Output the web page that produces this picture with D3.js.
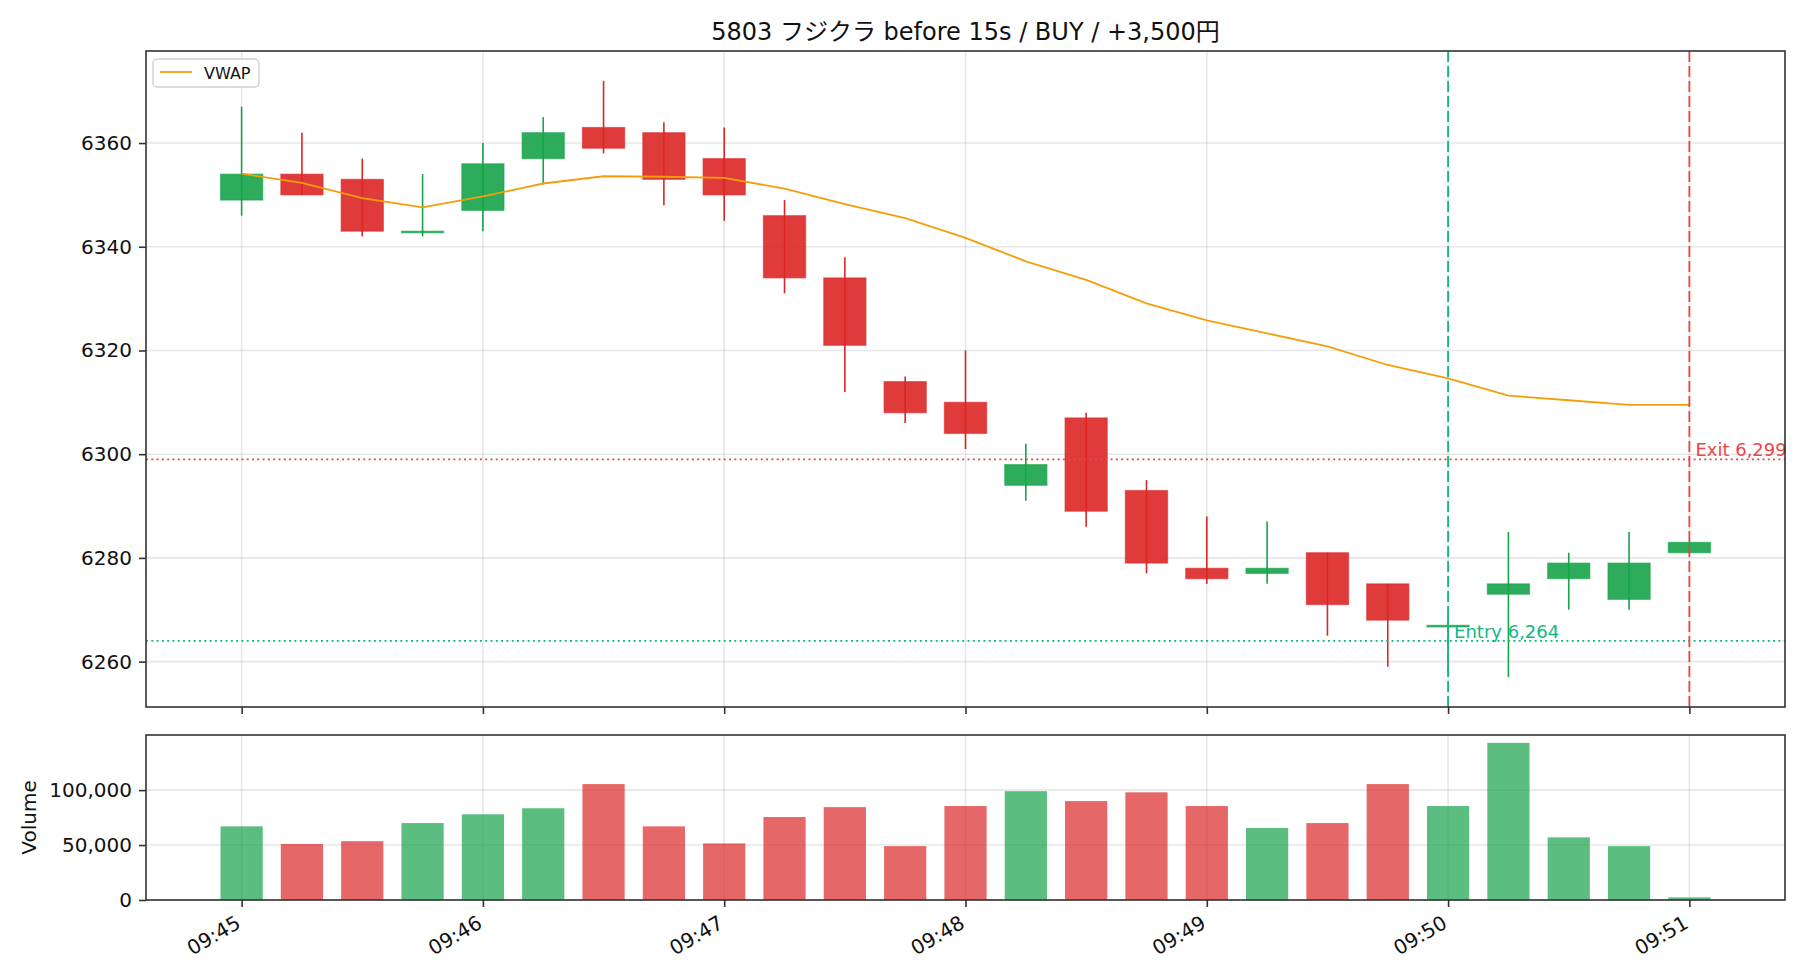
<!DOCTYPE html>
<html>
<head>
<meta charset="utf-8">
<script src="https://cdn.jsdelivr.net/npm/d3@7"></script>
<style>
  body { margin: 0; background: #fff; }
  svg text { font-family: "DejaVu Sans", "Noto Sans CJK JP", sans-serif; fill: #111; }
</style>
</head>
<body>
<svg id="chart" width="1820" height="980"></svg>
<script>
// 15s bars
const candleTimes = ["09:45:00","09:45:15","09:45:30","09:45:45","09:46:00","09:46:15","09:46:30","09:46:45",
  "09:47:00","09:47:15","09:47:30","09:47:45","09:48:00","09:48:15","09:48:30","09:48:45",
  "09:49:00","09:49:15","09:49:30","09:49:45","09:50:00","09:50:15","09:50:30","09:50:45","09:51:00"];
const opens  = [6349,6354,6353,6343,6347,6357,6363,6362,6357,6346,6334,6314,6310,6294,6307,6293,6278,6277,6281,6275,6267,6273,6276,6272,6281];
const highs  = [6367,6362,6357,6354,6360,6365,6372,6364,6363,6349,6338,6315,6320,6302,6308,6295,6288,6287,6281,6275,6269,6285,6281,6285,6283];
const lows   = [6346,6350,6342,6342,6343,6352,6358,6348,6345,6331,6312,6306,6301,6291,6286,6277,6275,6275,6265,6259,6258,6257,6270,6270,6281];
const closes = [6354,6350,6343,6343,6356,6362,6359,6353,6350,6334,6321,6308,6304,6298,6289,6279,6276,6278,6271,6268,6267,6275,6279,6279,6283];
const vwap   = [6354.1,6352.3,6349.4,6347.6,6349.7,6352.2,6353.6,6353.5,6353.3,6351.2,6348.2,6345.5,6341.7,
  6337.2,6333.6,6329.1,6325.8,6323.3,6320.8,6317.2,6314.6,6311.3,6310.4,6309.5,6309.5];
const volumes = [67000,51000,53500,70000,78000,83500,105500,67000,51500,75500,84500,49000,85500,
  99000,90000,98000,85500,65500,70000,105500,85500,143000,57000,49000,2400];

const xTickLabels = ["09:45","09:46","09:47","09:48","09:49","09:50","09:51"];
const priceTicks = [6260,6280,6300,6320,6340,6360];
const volumeTicks = [0,50000,100000];

const entryTime = "09:50:00", entryPrice = 6264;
const exitTime  = "09:51:00", exitPrice  = 6299;
const titleText = "5803 フジクラ before 15s / BUY / +3,500円";

const UP = "#16a34a", DOWN = "#dc2626", VWAP_C = "#f59e0b", ENTRY_C = "#10b981", EXIT_C = "#ef4444";

const svg = d3.select("#chart");
const parseT = d3.timeParse("%H:%M:%S");
const bars = candleTimes.map(function(t,i){
  return {t: parseT(t), o: opens[i], h: highs[i], l: lows[i], c: closes[i], v: vwap[i], vol: volumes[i]};
});

const main = {left: 146, right: 1785, top: 51, bottom: 707};
const vol  = {left: 146, right: 1785, top: 735, bottom: 900};

// matplotlib-like autoscale: body half width + 5% margin
const step = 15000, halfW = step * 0.35;
const t0 = +bars[0].t - halfW, t1 = +bars[bars.length-1].t + halfW;
const padT = (t1 - t0) * 0.05;
const x = d3.scaleTime().domain([new Date(t0 - padT), new Date(t1 + padT)]).range([main.left, main.right]);

const pMin = d3.min(lows), pMax = d3.max(highs), padP = (pMax - pMin) * 0.05;
const y = d3.scaleLinear().domain([pMin - padP, pMax + padP]).range([main.bottom, main.top]);
const yv = d3.scaleLinear().domain([0, d3.max(volumes) * 1.05]).range([vol.bottom, vol.top]);

const xTicks = xTickLabels.map(function(s){ return parseT(s + ":00"); });
const bw = x(new Date(+bars[0].t + halfW)) - x(new Date(+bars[0].t - halfW));

function grid(g, box, yScale, yTicks){
  g.selectAll(".gx").data(xTicks).enter().append("line")
    .attr("x1", d => x(d)).attr("x2", d => x(d)).attr("y1", box.top).attr("y2", box.bottom)
    .attr("stroke", "#b0b0b0").attr("stroke-opacity", 0.3).attr("stroke-width", 1.6);
  g.selectAll(".gy").data(yTicks).enter().append("line")
    .attr("x1", box.left).attr("x2", box.right).attr("y1", d => yScale(d)).attr("y2", d => yScale(d))
    .attr("stroke", "#b0b0b0").attr("stroke-opacity", 0.3).attr("stroke-width", 1.6);
}

function frame(g, box, yScale, yTicks, fmt, showX){
  const ya = g.append("g").attr("transform", "translate(" + box.left + ",0)")
    .call(d3.axisLeft(yScale).tickValues(yTicks).tickFormat(fmt).tickSize(7).tickPadding(7));
  const xa = g.append("g").attr("transform", "translate(0," + box.bottom + ")")
    .call(d3.axisBottom(x).tickValues(xTicks).tickFormat(d3.timeFormat("%H:%M")).tickSize(7).tickPadding(7));
  [ya, xa].forEach(function(a){
    a.select(".domain").remove();
    a.selectAll(".tick line").attr("stroke", "#333").attr("stroke-width", 1.6);
    a.selectAll(".tick text").style("font-size", "20px").attr("fill", "#111");
  });
  if(!showX) xa.selectAll(".tick text").remove();
  else {
    xa.selectAll(".tick text")
      .attr("text-anchor", "end").attr("dy", "0")
      .attr("transform", "translate(0,27) rotate(-30)")
      .attr("y", 0).attr("x", 0);
  }
  g.append("rect").attr("x", box.left).attr("y", box.top)
    .attr("width", box.right - box.left).attr("height", box.bottom - box.top)
    .attr("fill", "none").attr("stroke", "#333").attr("stroke-width", 1.6);
}

// ---- price panel
const gMain = svg.append("g");
grid(gMain, main, y, priceTicks);

gMain.append("clipPath").attr("id", "clipMain").append("rect")
  .attr("x", main.left).attr("y", main.top).attr("width", main.right - main.left).attr("height", main.bottom - main.top);
const plot = gMain.append("g").attr("clip-path", "url(#clipMain)");

const candle = plot.selectAll(".candle").data(bars).enter().append("g").attr("class", "candle");
candle.append("line")
  .attr("x1", d => x(d.t)).attr("x2", d => x(d.t))
  .attr("y1", d => y(d.h)).attr("y2", d => y(d.l))
  .attr("stroke", d => d.c >= d.o ? UP : DOWN).attr("stroke-width", 1.6);
candle.append("rect")
  .attr("x", d => x(d.t) - bw/2).attr("width", bw)
  .attr("y", d => Math.min(y(d.o), y(d.c)))
  .attr("height", d => Math.max(Math.abs(y(d.o) - y(d.c)), 1.6))
  .attr("fill", d => d.c >= d.o ? UP : DOWN).attr("fill-opacity", 0.9)
  .attr("stroke", d => d.c >= d.o ? UP : DOWN).attr("stroke-opacity", 0.55).attr("stroke-width", 1.2);

plot.append("path").datum(bars)
  .attr("d", d3.line().x(d => x(d.t)).y(d => y(d.v)))
  .attr("fill", "none").attr("stroke", VWAP_C).attr("stroke-width", 1.8);

// entry / exit markers
plot.append("line").attr("x1", main.left).attr("x2", main.right)
  .attr("y1", y(entryPrice)).attr("y2", y(entryPrice))
  .attr("stroke", ENTRY_C).attr("stroke-width", 1.6).attr("stroke-dasharray", "2,3.3");
plot.append("line").attr("x1", main.left).attr("x2", main.right)
  .attr("y1", y(exitPrice)).attr("y2", y(exitPrice))
  .attr("stroke", EXIT_C).attr("stroke-width", 1.6).attr("stroke-dasharray", "2,3.3");
plot.append("line").attr("x1", x(parseT(entryTime))).attr("x2", x(parseT(entryTime)))
  .attr("y1", main.top).attr("y2", main.bottom)
  .attr("stroke", ENTRY_C).attr("stroke-width", 1.8).attr("stroke-dasharray", "11,4");
plot.append("line").attr("x1", x(parseT(exitTime))).attr("x2", x(parseT(exitTime)))
  .attr("y1", main.top).attr("y2", main.bottom)
  .attr("stroke", EXIT_C).attr("stroke-width", 1.8).attr("stroke-dasharray", "11,4");

gMain.append("text").attr("x", x(parseT(entryTime)) + 6).attr("y", y(entryPrice) - 3)
  .style("font-size", "18px").style("fill", ENTRY_C).text("Entry " + d3.format(",")(entryPrice));
gMain.append("text").attr("x", x(parseT(exitTime)) + 6).attr("y", y(exitPrice) - 3)
  .style("font-size", "18px").style("fill", EXIT_C).text("Exit " + d3.format(",")(exitPrice));

frame(gMain, main, y, priceTicks, d3.format("d"), false);

// legend
const lg = gMain.append("g").attr("transform", "translate(153,59)");
lg.append("rect").attr("width", 106).attr("height", 28).attr("rx", 4)
  .attr("fill", "#fff").attr("fill-opacity", 0.8).attr("stroke", "#d0d0d0").attr("stroke-width", 1.4);
lg.append("line").attr("x1", 7).attr("x2", 39).attr("y1", 13).attr("y2", 13)
  .attr("stroke", VWAP_C).attr("stroke-width", 1.8);
lg.append("text").attr("x", 51).attr("y", 19.5).style("font-size", "16px").text("VWAP");

// ---- volume panel
const gVol = svg.append("g");
grid(gVol, vol, yv, volumeTicks);
gVol.selectAll(".vbar").data(bars).enter().append("rect")
  .attr("x", d => x(d.t) - bw/2).attr("width", bw)
  .attr("y", d => yv(d.vol)).attr("height", d => vol.bottom - yv(d.vol))
  .attr("fill", d => d.c >= d.o ? UP : DOWN).attr("fill-opacity", 0.7);
frame(gVol, vol, yv, volumeTicks, d3.format(","), true);

gVol.append("text").attr("transform", "translate(36," + (vol.top + vol.bottom)/2 + ") rotate(-90)")
  .attr("text-anchor", "middle").style("font-size", "20px").text("Volume");

// title
svg.append("text").attr("x", (main.left + main.right)/2).attr("y", 40)
  .attr("text-anchor", "middle").style("font-size", "24px").text(titleText);
</script>
</body>
</html>
